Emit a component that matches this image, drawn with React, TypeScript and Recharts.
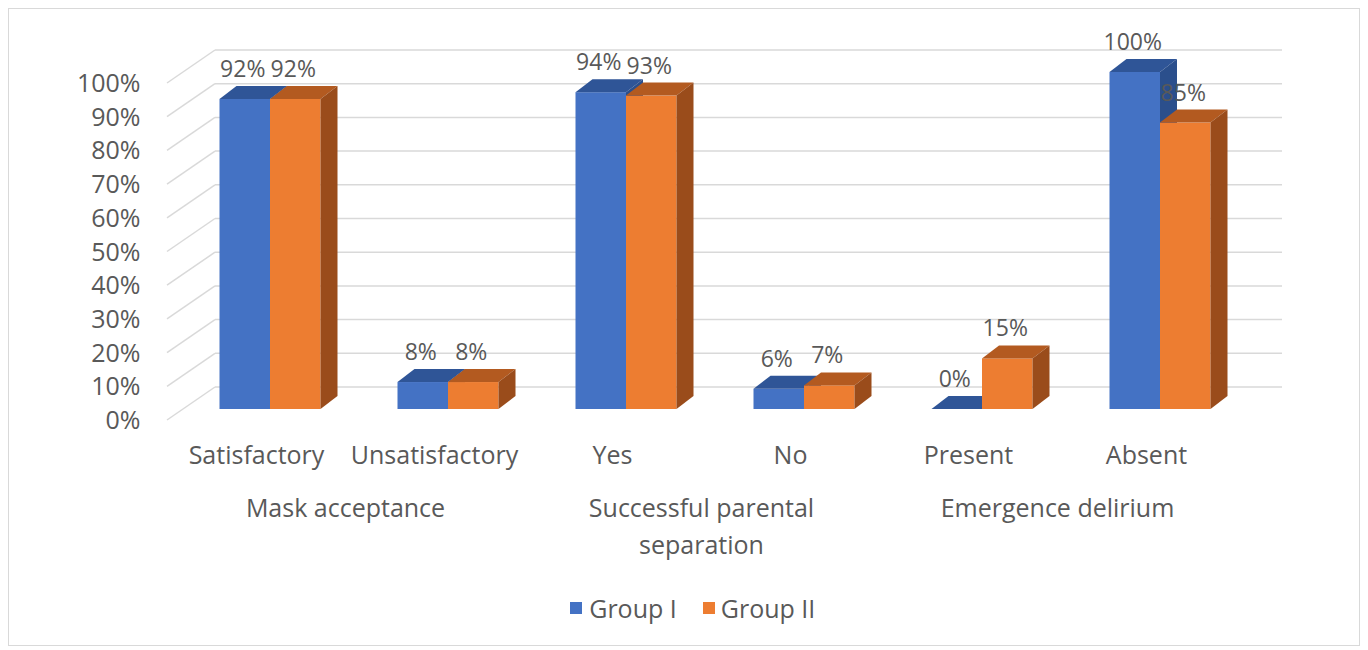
import { BarChart, Bar, XAxis, YAxis, CartesianGrid, Legend, LabelList } from 'recharts';

const categories = ['Satisfactory', 'Unsatisfactory', 'Yes', 'No', 'Present', 'Absent'];
const groupI = [0.92, 0.08, 0.94, 0.06, 0, 1.0];
const groupII = [0.92, 0.08, 0.93, 0.07, 0.15, 0.85];
const groupLabels = [['Mask acceptance'], ['Successful parental', 'separation'], ['Emergence delirium']];
const yTicks = [0, 0.1, 0.2, 0.3, 0.4, 0.5, 0.6, 0.7, 0.8, 0.9, 1];

const data = categories.map((cat, i) => ({ cat, g1: groupI[i], g2: groupII[i] }));

const FONT = '"Open Sans", sans-serif';
const TEXT = '#595959';
const FS = 25;
const DX = 17;
const DY = 13;

const pct = (v: number) => `${Math.round(v * 100)}%`;

const make3D = (front: string, top: string, side: string) => (props: any) => {
  const { x, y, width, height } = props;
  if (x == null || y == null) return null;
  const h = Math.max(0, height || 0);
  return (
    <g>
      <rect x={x} y={y} width={width} height={h} fill={front} />
      <polygon
        points={`${x},${y} ${x + DX},${y - DY} ${x + width + DX},${y - DY} ${x + width},${y}`}
        fill={top}
      />
      <polygon
        points={`${x + width},${y} ${x + width + DX},${y - DY} ${x + width + DX},${y + h - DY} ${x + width},${y + h}`}
        fill={side}
      />
    </g>
  );
};

const blueShape = make3D('#4472C4', '#2F5597', '#2B4F8C');
const orangeShape = make3D('#ED7D31', '#B35A20', '#9A4C1B');

const renderLabel = (props: any) => {
  const { x, y, width, value } = props;
  return (
    <text x={x + width / 2 - 2} y={y - DY - 9} textAnchor="middle" fontFamily={FONT} fontSize={23} fill={TEXT}>
      {pct(value)}
    </text>
  );
};

const YTick = (props: any) => {
  const { x, y, payload } = props;
  return (
    <text x={x - 32} y={y + 10} textAnchor="end" dominantBaseline="central" fontFamily={FONT} fontSize={FS} fill={TEXT}>
      {pct(payload.value)}
    </text>
  );
};

const XTick = (props: any) => {
  const { x, y, payload, index } = props;
  const grp = index % 2 === 0 ? groupLabels[index / 2] : null;
  return (
    <g>
      <text x={x - 13} y={y + 37} textAnchor="middle" dominantBaseline="central" fontFamily={FONT} fontSize={FS} fill={TEXT}>
        {payload.value}
      </text>
      {grp &&
        grp.map((line, k) => (
          <text
            key={k}
            x={x + 76}
            y={y + 90 + k * 37}
            textAnchor="middle"
            dominantBaseline="central"
            fontFamily={FONT}
            fontSize={FS}
            fill={TEXT}
          >
            {line}
          </text>
        ))}
    </g>
  );
};

const gridLine = (p: any) => {
  const { x1, x2, y1 } = p;
  return (
    <g key={p.key}>
      <line x1={x1 - 13.5} y1={y1 + 11} x2={x1 + 34.5} y2={y1 - 22} stroke="#D9D9D9" strokeWidth={1.5} />
      <line x1={x1 + 34.5} y1={y1 - 22} x2={x2 + 33.5} y2={y1 - 22} stroke="#D9D9D9" strokeWidth={1.5} />
    </g>
  );
};

const LegendContent = () => (
  <div
    style={{
      height: 50,
      paddingLeft: 128,
      display: 'flex',
      justifyContent: 'center',
      alignItems: 'center',
      fontFamily: FONT,
      fontSize: FS,
      color: TEXT,
    }}
  >
    <span style={{ display: 'inline-block', width: 12, height: 12, background: '#4472C4', marginRight: 7 }} />
    <span style={{ marginRight: 26 }}>Group I</span>
    <span style={{ display: 'inline-block', width: 12, height: 12, background: '#ED7D31', marginRight: 6 }} />
    <span>Group II</span>
  </div>
);

export default function App() {
  return (
    <div style={{ width: 1352, height: 638, border: '1px solid #D9D9D9', boxSizing: 'border-box', background: '#fff' }}>
      <BarChart
        width={1350}
        height={636}
        data={data}
        margin={{ top: 63, right: 110.5, left: 0, bottom: 12 }}
        barGap={0}
        barSize={50.5}
      >
        <CartesianGrid vertical={false} horizontal={gridLine} />
        <XAxis dataKey="cat" axisLine={false} tickLine={false} height={174} interval={0} tick={<XTick />} />
        <YAxis
          domain={[0, 1]}
          ticks={yTicks}
          axisLine={false}
          tickLine={false}
          width={171.5}
          tick={<YTick />}
        />
        <Legend verticalAlign="bottom" content={<LegendContent />} />
        <Bar dataKey="g1" name="Group I" fill="#4472C4" shape={blueShape} isAnimationActive={false}>
          <LabelList dataKey="g1" content={renderLabel} />
        </Bar>
        <Bar dataKey="g2" name="Group II" fill="#ED7D31" shape={orangeShape} isAnimationActive={false}>
          <LabelList dataKey="g2" content={renderLabel} />
        </Bar>
      </BarChart>
    </div>
  );
}
